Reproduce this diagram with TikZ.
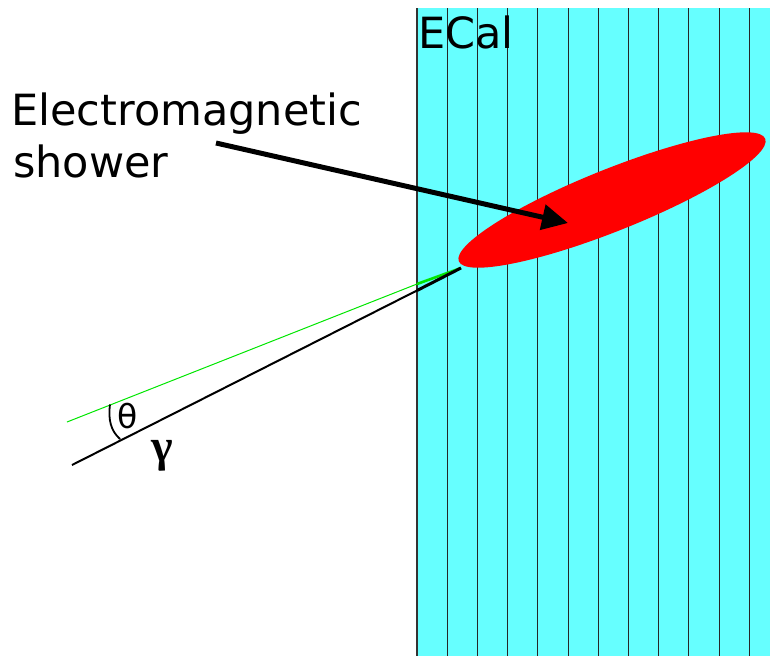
\documentclass[tikz,border=0pt]{standalone}
\usepackage{fontspec}
\setmainfont{DejaVu Sans}
\newfontfamily\gammafont{Liberation Serif}
\usetikzlibrary{arrows.meta,shapes.geometric}
\definecolor{ecalcyan}{RGB}{102,255,255}
\definecolor{showerred}{RGB}{255,0,0}
\definecolor{trackgreen}{RGB}{0,230,0}
\tikzset{
  lbl/.style={inner sep=0pt, anchor=base west, font=\fontsize{43}{50}\selectfont},
  ecalline/.style={line width=1pt, draw=black!85},
  photon/.style={line width=2pt, draw=black},
  refline/.style={line width=1pt, draw=trackgreen},
  pointer/.style={line width=5pt, draw=black, -{Triangle[length=26pt,width=25pt]}}
}
\begin{document}
\begin{tikzpicture}[x=1pt,y=-1pt]
\useasboundingbox (0,0) rectangle (770,656);
% ECal block
\fill[ecalcyan] (417,8) rectangle (770,656);
\foreach \k in {0,...,10} {
  \draw[ecalline] ({447.3+30.2*\k},8) -- ({447.3+30.2*\k},656);
}
\draw[line width=1.4pt, draw=black!80] (417,8) -- (417,656);
\node[lbl] (ecal) at (418,48) {ECal};
% shower
\node[ellipse, fill=showerred, minimum width=330pt, minimum height=62pt, inner sep=0pt, rotate=21.8] (shower) at (612,200) {};
% tracks
\coordinate (vertex) at (461,268);
\coordinate (gstart) at (67,422);
\coordinate (bstart) at (72,465);
\coordinate (gedge) at (417,284);
\coordinate (bedge) at (417,290.5);
\draw[refline] (gstart) -- (gedge);
\draw[line width=2.6pt, draw=trackgreen] (gedge) -- (vertex);
\draw[photon] (bstart) -- (bedge);
\draw[line width=3pt, draw=black] (bedge) -- (vertex);
% angle mark
\coordinate (a1) at (110,404.5);
\coordinate (a2) at (120,439);
\draw[line width=1.8pt] (a1) .. controls (108,420) and (111,431) .. (a2);
\node[inner sep=0pt, anchor=base west, font=\fontsize{33}{38}\selectfont] (theta) at (117,428) {θ};
\node[inner sep=0pt, anchor=base west, font=\gammafont\bfseries\fontsize{46}{52}\selectfont] (gamma) at (151,461) {γ};
% label and pointer
\node[lbl] (lab1) at (11,125) {Electromagnetic};
\node[lbl] (lab2) at (13,177) {shower};
\coordinate (pstart) at (216,143);
\coordinate (ptip) at (568,223);
\draw[pointer] (pstart) -- (ptip);
\end{tikzpicture}
\end{document}
